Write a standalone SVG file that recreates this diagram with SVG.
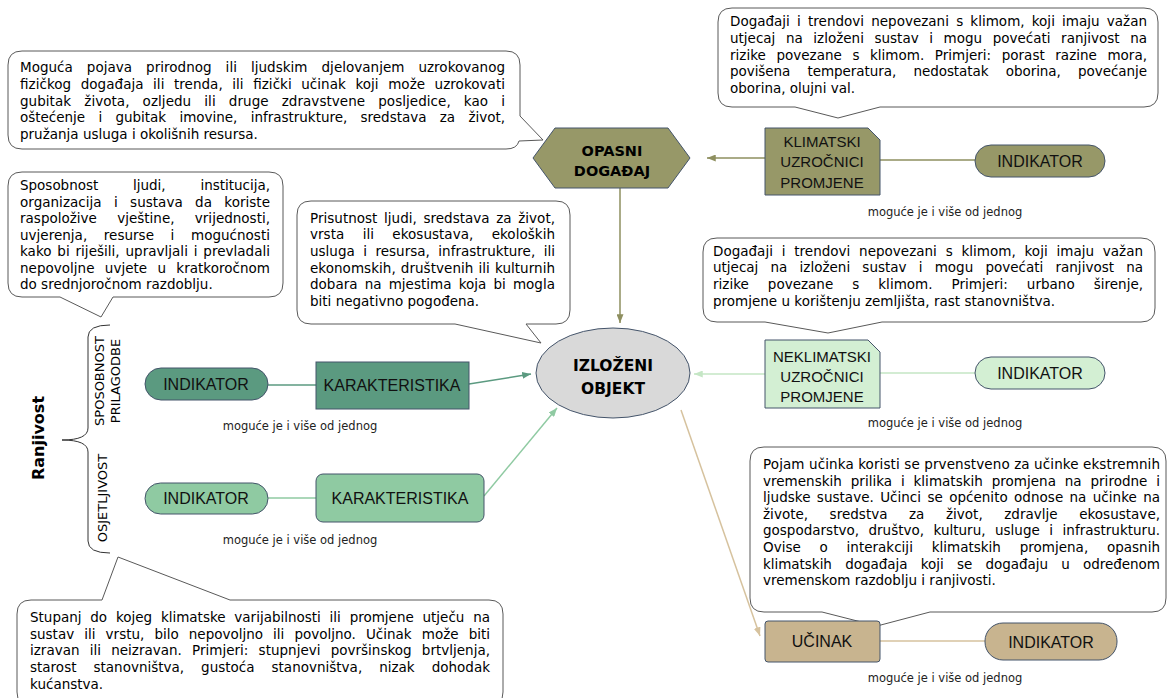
<svg xmlns="http://www.w3.org/2000/svg" width="1167" height="698" viewBox="0 0 1167 698">
<defs>
<style>
.callout{fill:#ffffff;stroke:#595959;stroke-width:1}
.ct{font-family:"DejaVu Sans",Verdana,sans-serif;font-size:13.5px;fill:#000}
.lbl{font-family:"Liberation Sans",Arial,sans-serif;font-size:16px;fill:#111;text-anchor:middle}
.lbl3{font-family:"Liberation Sans",Arial,sans-serif;font-size:15px;fill:#111;text-anchor:middle}
.bold{font-family:"DejaVu Sans",Verdana,sans-serif;font-weight:bold;fill:#000;text-anchor:middle}
.note{font-family:"DejaVu Sans",Verdana,sans-serif;font-size:11.5px;fill:#222;text-anchor:middle}
.vt{font-family:"DejaVu Sans",Verdana,sans-serif;font-size:13px;fill:#000;text-anchor:middle}
.node{stroke:#44546a;stroke-width:1}
.olive{fill:#979868}
.teal{fill:#5b9a80}
.lgreen{fill:#8fcaa2}
.pale{fill:#d3efd3}
.tan{fill:#c8b48f}
.conn{fill:none;stroke-width:1.5}
</style>
<marker id="aOlive" viewBox="0 0 10 8" refX="10" refY="4" markerWidth="9" markerHeight="7" markerUnits="userSpaceOnUse" orient="auto"><path d="M0,0 L10,4 L0,8 Z" fill="#8e8f5f"/></marker>
<marker id="aTeal" viewBox="0 0 10 8" refX="10" refY="4" markerWidth="9" markerHeight="7" markerUnits="userSpaceOnUse" orient="auto"><path d="M0,0 L10,4 L0,8 Z" fill="#5b9a80"/></marker>
<marker id="aLGreen" viewBox="0 0 10 8" refX="10" refY="4" markerWidth="9" markerHeight="7" markerUnits="userSpaceOnUse" orient="auto"><path d="M0,0 L10,4 L0,8 Z" fill="#8fcaa2"/></marker>
<marker id="aPale" viewBox="0 0 10 8" refX="10" refY="4" markerWidth="9" markerHeight="7" markerUnits="userSpaceOnUse" orient="auto"><path d="M0,0 L10,4 L0,8 Z" fill="#c5e6c5"/></marker>
<marker id="aTan" viewBox="0 0 10 8" refX="10" refY="4" markerWidth="9" markerHeight="7" markerUnits="userSpaceOnUse" orient="auto"><path d="M0,0 L10,4 L0,8 Z" fill="#d6c29e"/></marker>
</defs>
<rect width="1167" height="698" fill="#ffffff"/>

<g id="connectors">
<line class="conn" x1="765" y1="158" x2="707" y2="158" stroke="#8e8f5f" marker-end="url(#aOlive)"/>
<line class="conn" x1="880" y1="160" x2="975" y2="160" stroke="#8e8f5f"/>
<line class="conn" x1="620" y1="188" x2="620" y2="323" stroke="#8e8f5f" marker-end="url(#aOlive)"/>
<line class="conn" x1="268" y1="385" x2="316" y2="385" stroke="#5b9a80"/>
<line class="conn" x1="469" y1="384" x2="531" y2="374" stroke="#5b9a80" marker-end="url(#aTeal)"/>
<line class="conn" x1="268" y1="498" x2="316" y2="498" stroke="#8fcaa2"/>
<line class="conn" x1="484" y1="496" x2="557" y2="408" stroke="#8fcaa2" marker-end="url(#aLGreen)"/>
<line class="conn" x1="765" y1="374" x2="694" y2="374" stroke="#c5e6c5" marker-end="url(#aPale)"/>
<line class="conn" x1="880" y1="373" x2="975" y2="373" stroke="#c5e6c5"/>
<line class="conn" x1="681" y1="410" x2="760" y2="636" stroke="#d6c29e" marker-end="url(#aTan)"/>
<line class="conn" x1="880" y1="641" x2="985" y2="641" stroke="#d6c29e"/>
</g>

<g id="callout-opasni">
<path class="callout" d="M22,51 H506 Q520,51 520,65 V116 L543,140 L519,141 Q517,149 506,149 H22 Q8,149 8,135 V65 Q8,51 22,51 Z"/>
<text class="ct" x="20" y="72" word-spacing="9.7" textLength="485" lengthAdjust="spacing">Moguća pojava prirodnog ili ljudskim djelovanjem uzrokovanog</text>
<text class="ct" x="20" y="88.8" word-spacing="5.2" textLength="485" lengthAdjust="spacing">fizičkog događaja ili trenda, ili fizički učinak koji može uzrokovati</text>
<text class="ct" x="20" y="105.6" word-spacing="8.8" textLength="485" lengthAdjust="spacing">gubitak života, ozljedu ili druge zdravstvene posljedice, kao i</text>
<text class="ct" x="20" y="122.4" word-spacing="9.1" textLength="485" lengthAdjust="spacing">oštećenje i gubitak imovine, infrastrukture, sredstava za život,</text>
<text class="ct" x="20" y="139.2">pružanja usluga i okolišnih resursa.</text>
</g>

<g id="callout-klimatski">
<path class="callout" d="M732,8 H1144 Q1158,8 1158,22 V93 Q1158,107 1144,107 H880 L838,118 L795,107 H732 Q718,107 718,93 V22 Q718,8 732,8 Z"/>
<text class="ct" x="730" y="26" word-spacing="2.9" textLength="417" lengthAdjust="spacing">Događaji i trendovi nepovezani s klimom, koji imaju važan</text>
<text class="ct" x="730" y="42.8" word-spacing="6.3" textLength="417" lengthAdjust="spacing">utjecaj na izloženi sustav i mogu povećati ranjivost na</text>
<text class="ct" x="730" y="59.6" word-spacing="6.2" textLength="417" lengthAdjust="spacing">rizike povezane s klimom. Primjeri: porast razine mora,</text>
<text class="ct" x="730" y="76.4" word-spacing="13" textLength="417" lengthAdjust="spacing">povišena temperatura, nedostatak oborina, povećanje</text>
<text class="ct" x="730" y="93.2">oborina, olujni val.</text>
</g>

<g id="callout-sposobnost">
<path class="callout" d="M22,172 H269 Q283,172 283,186 V283 Q283,297 269,297 H113 L101,317 L60,297 H22 Q8,297 8,283 V186 Q8,172 22,172 Z"/>
<text class="ct" x="20" y="190" word-spacing="30.5" textLength="250" lengthAdjust="spacing">Sposobnost ljudi, institucija,</text>
<text class="ct" x="20" y="206.5" word-spacing="8" textLength="250" lengthAdjust="spacing">organizacija i sustava da koriste</text>
<text class="ct" x="20" y="223" word-spacing="16" textLength="250" lengthAdjust="spacing">raspoložive vještine, vrijednosti,</text>
<text class="ct" x="20" y="239.5" word-spacing="12.3" textLength="250" lengthAdjust="spacing">uvjerenja, resurse i mogućnosti</text>
<text class="ct" x="20" y="256" word-spacing="1.5" textLength="250" lengthAdjust="spacing">kako bi riješili, upravljali i prevladali</text>
<text class="ct" x="20" y="272.5" word-spacing="6" textLength="250" lengthAdjust="spacing">nepovoljne uvjete u kratkoročnom</text>
<text class="ct" x="20" y="289">do srednjoročnom razdoblju.</text>
</g>

<g id="callout-izlozeni">
<path class="callout" d="M311,201 H556 Q570,201 570,215 V310 Q570,324 556,324 H526 L541,343 L455,324 H311 Q297,324 297,310 V215 Q297,201 311,201 Z"/>
<text class="ct" x="310" y="222.5" word-spacing="2.3" textLength="245" lengthAdjust="spacing">Prisutnost ljudi, sredstava za život,</text>
<text class="ct" x="310" y="239.2" word-spacing="14" textLength="245" lengthAdjust="spacing">vrsta ili ekosustava, ekoloških</text>
<text class="ct" x="310" y="255.9" word-spacing="4.2" textLength="245" lengthAdjust="spacing">usluga i resursa, infrastrukture, ili</text>
<text class="ct" x="310" y="272.6" word-spacing="0.8" textLength="245" lengthAdjust="spacing">ekonomskih, društvenih ili kulturnih</text>
<text class="ct" x="310" y="289.3" word-spacing="2.8" textLength="245" lengthAdjust="spacing">dobara na mjestima koja bi mogla</text>
<text class="ct" x="310" y="306">biti negativno pogođena.</text>
</g>

<g id="callout-neklimatski">
<path class="callout" d="M717,238 H1141 Q1155,238 1155,252 V308 Q1155,322 1141,322 H882 L828,333 L765,322 H717 Q703,322 703,308 V252 Q703,238 717,238 Z"/>
<text class="ct" x="713" y="255.5" word-spacing="4.5" textLength="430" lengthAdjust="spacing">Događaji i trendovi nepovezani s klimom, koji imaju važan</text>
<text class="ct" x="713" y="272.2" word-spacing="7.9" textLength="430" lengthAdjust="spacing">utjecaj na izloženi sustav i mogu povećati ranjivost na</text>
<text class="ct" x="713" y="288.9" word-spacing="14.7" textLength="430" lengthAdjust="spacing">rizike povezane s klimom. Primjeri: urbano širenje,</text>
<text class="ct" x="713" y="305.6">promjene u korištenju zemljišta, rast stanovništva.</text>
</g>

<g id="callout-ucinak">
<path class="callout" d="M764,447 H1152 Q1166,447 1166,461 V598 Q1166,612 1152,612 H930 L877,626 L822,612 H764 Q750,612 750,598 V461 Q750,447 764,447 Z"/>
<text class="ct" x="763" y="469" textLength="397" lengthAdjust="spacing">Pojam učinka koristi se prvenstveno za učinke ekstremnih</text>
<text class="ct" x="763" y="485.6" word-spacing="4.5" textLength="397" lengthAdjust="spacing">vremenskih prilika i klimatskih promjena na prirodne i</text>
<text class="ct" x="763" y="502.2" word-spacing="2" textLength="397" lengthAdjust="spacing">ljudske sustave. Učinci se općenito odnose na učinke na</text>
<text class="ct" x="763" y="518.8" word-spacing="17.2" textLength="397" lengthAdjust="spacing">živote, sredstva za život, zdravlje ekosustave,</text>
<text class="ct" x="763" y="535.4" word-spacing="5.2" textLength="397" lengthAdjust="spacing">gospodarstvo, društvo, kulturu, usluge i infrastrukturu.</text>
<text class="ct" x="763" y="552" word-spacing="14.5" textLength="397" lengthAdjust="spacing">Ovise o interakciji klimatskih promjena, opasnih</text>
<text class="ct" x="763" y="568.6" word-spacing="9" textLength="397" lengthAdjust="spacing">klimatskih događaja koji se događaju u određenom</text>
<text class="ct" x="763" y="585.2">vremenskom razdoblju i ranjivosti.</text>
</g>

<g id="callout-osjetljivost">
<path class="callout" d="M31,600 H102 L118,557 L230,600 H489 Q503,600 503,614 V692 Q503,706 489,706 H31 Q17,706 17,692 V614 Q17,600 31,600 Z"/>
<text class="ct" x="30" y="622" word-spacing="4.5" textLength="460" lengthAdjust="spacing">Stupanj do kojeg klimatske varijabilnosti ili promjene utječu na</text>
<text class="ct" x="30" y="638.7" word-spacing="5.8" textLength="460" lengthAdjust="spacing">sustav ili vrstu, bilo nepovoljno ili povoljno. Učinak može biti</text>
<text class="ct" x="30" y="655.4" word-spacing="5.9" textLength="460" lengthAdjust="spacing">izravan ili neizravan. Primjeri: stupnjevi površinskog brtvljenja,</text>
<text class="ct" x="30" y="672.1" word-spacing="12.7" textLength="460" lengthAdjust="spacing">starost stanovništva, gustoća stanovništva, nizak dohodak</text>
<text class="ct" x="30" y="688.8">kućanstva.</text>
</g>

<g id="node-opasni">
<polygon class="node olive" points="533,158 555,128 668,128 690,158 668,188 555,188"/>
<text class="bold" x="612" y="156" font-size="14.5">OPASNI</text>
<text class="bold" x="612" y="176" font-size="14.5">DOGAĐAJ</text>
</g>

<g id="node-klimatski">
<path class="node olive" d="M765,128 H868 L880,140 V195 H765 Z"/>
<text class="lbl3" x="822" y="146.5">KLIMATSKI</text>
<text class="lbl3" x="822" y="167">UZROČNICI</text>
<text class="lbl3" x="822" y="187.5">PROMJENE</text>
</g>

<g id="node-indikator-klimatski">
<rect class="node olive" x="975" y="145" width="130" height="32" rx="16"/>
<text class="lbl" x="1040" y="166.5">INDIKATOR</text>
</g>
<text class="note" x="945" y="216">moguće je i više od jednog</text>

<g id="node-izlozeni">
<ellipse class="node" cx="613" cy="373" rx="77" ry="45" fill="#d9d9d9"/>
<text class="bold" x="613" y="371" font-size="15.5">IZLOŽENI</text>
<text class="bold" x="613" y="394" font-size="15.5">OBJEKT</text>
</g>

<g id="node-neklimatski">
<path class="node pale" d="M765,340 H868 L880,352 V408 H765 Z"/>
<text class="lbl3" x="822" y="361.5">NEKLIMATSKI</text>
<text class="lbl3" x="822" y="381.5">UZROČNICI</text>
<text class="lbl3" x="822" y="401.5">PROMJENE</text>
</g>

<g id="node-indikator-neklimatski">
<rect class="node pale" x="975" y="357" width="130" height="32" rx="16"/>
<text class="lbl" x="1040" y="378.5">INDIKATOR</text>
</g>
<text class="note" x="945" y="427">moguće je i više od jednog</text>

<g id="node-ucinak">
<rect class="node tan" x="765" y="621" width="115" height="41" rx="3"/>
<text class="lbl" x="822" y="647">UČINAK</text>
</g>

<g id="node-indikator-ucinak">
<rect class="node tan" x="985" y="623" width="132" height="37" rx="18"/>
<text class="lbl" x="1051" y="647.5">INDIKATOR</text>
</g>
<text class="note" x="945" y="682">moguće je i više od jednog</text>

<g id="ranjivost">
<text class="bold" font-size="16" transform="translate(44,438) rotate(-90)">Ranjivost</text>
<path d="M110,325 Q88,325 88,337 V428 Q88,440 62,440 Q88,440 88,452 V541 Q88,553 110,553" fill="none" stroke="#333" stroke-width="1"/>
<text class="vt" transform="translate(104,381) rotate(-90)">SPOSOBNOST</text>
<text class="vt" transform="translate(120,381) rotate(-90)">PRILAGODBE</text>
<text class="vt" transform="translate(107,498) rotate(-90)">OSJETLJIVOST</text>
</g>

<g id="node-indikator-sposobnost">
<rect class="node teal" x="145" y="368" width="123" height="32" rx="16"/>
<text class="lbl" x="206" y="390">INDIKATOR</text>
</g>

<g id="node-karakteristika-sposobnost">
<rect class="node teal" x="316" y="362" width="153" height="47"/>
<text class="lbl" x="392" y="391">KARAKTERISTIKA</text>
</g>
<text class="note" x="300" y="430">moguće je i više od jednog</text>

<g id="node-indikator-osjetljivost">
<rect class="node lgreen" x="145" y="483" width="123" height="31" rx="15.5"/>
<text class="lbl" x="206" y="504">INDIKATOR</text>
</g>

<g id="node-karakteristika-osjetljivost">
<rect class="node lgreen" x="316" y="474" width="168" height="48" rx="7"/>
<text class="lbl" x="400" y="503.5">KARAKTERISTIKA</text>
</g>
<text class="note" x="300" y="544">moguće je i više od jednog</text>
</svg>
